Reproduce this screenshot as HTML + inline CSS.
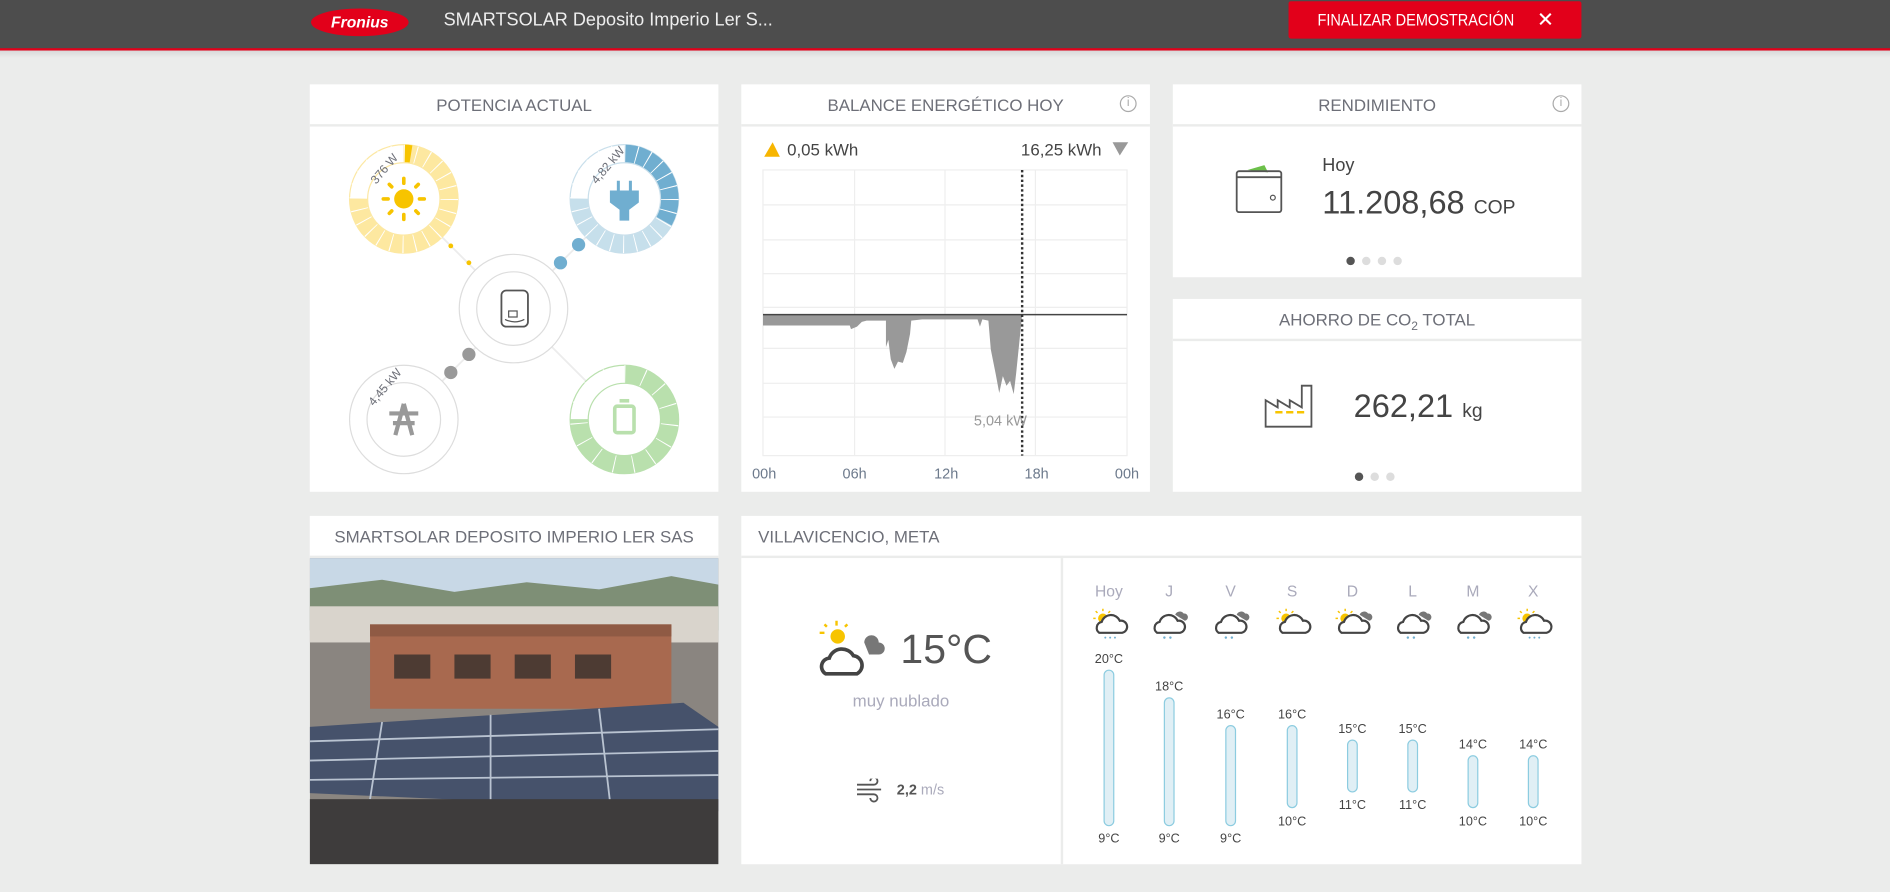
<!DOCTYPE html>
<html><head><meta charset="utf-8">
<style>
html,body{margin:0;padding:0;width:1890px;height:892px;overflow:hidden;background:#ebeceb;}
#w{position:absolute;left:0;top:0;width:1568px;height:740px;transform:scale(1.20536);transform-origin:0 0;font-family:"Liberation Sans",sans-serif;}
.card{position:absolute;background:#fff;}
.hd{position:absolute;left:0;right:0;top:0;height:33px;border-bottom:2px solid #ebeceb;color:#6d6f78;font-size:14px;line-height:34px;text-align:center;}
.abs{position:absolute;}
</style></head><body><div id="w">
<div class="abs" style="left:0;top:0;width:1568px;height:40px;background:#4d4d4d;border-bottom:2px solid #e2001a;"></div>
<div class="abs" style="left:0;top:42px;width:1568px;height:6px;background:linear-gradient(#d9d9d9,#ebeceb);"></div>
<div class="abs" style="left:258px;top:7px;width:81px;height:23px;border-radius:50%;background:#e2001a;color:#fff;font-style:italic;font-weight:bold;font-size:13px;line-height:23px;text-align:center;">Fronius</div>
<div class="abs" style="left:368px;top:8px;color:#eee;font-size:15px;">SMARTSOLAR Deposito Imperio Ler S...</div>
<div class="abs" style="left:1069px;top:1px;width:243px;height:31px;background:#e2001a;border-radius:2px;color:#fff;font-size:14px;line-height:31px;"><span style="position:absolute;left:24px;transform:scaleX(0.86);transform-origin:0 0;white-space:nowrap;">FINALIZAR DEMOSTRACIÓN</span><span style="position:absolute;left:206px;font-size:17px;">✕</span></div>

<!-- Potencia -->
<div class="card" style="left:257px;top:70px;width:339px;height:338px;">
<div class="hd">POTENCIA ACTUAL</div>
<svg class="abs" style="left:0;top:0" width="339" height="338">
<g stroke="#ececec" stroke-width="1.5"><line x1="78" y1="95" x2="261" y2="278"/><line x1="261" y1="95" x2="78" y2="278"/></g>
<!-- sun -->
<circle cx="78" cy="95" r="45" fill="#fff" stroke="#fce8a4"/>
<circle cx="78" cy="95" r="37.5" fill="none" stroke="#fde8a0" stroke-width="15" stroke-dasharray="176.7 300" transform="rotate(-90 78 95)"/>
<circle cx="78" cy="95" r="37.5" fill="none" stroke="#f7c400" stroke-width="15" stroke-dasharray="6 300" transform="rotate(-90 78 95)"/>
<circle cx="78" cy="95" r="37.5" fill="none" stroke="#fff" stroke-width="15" stroke-dasharray="0.8 9.02" transform="rotate(-90 78 95)"/>
<circle cx="78" cy="95" r="30" fill="#fff" stroke="#fce8a4"/>
<circle cx="78" cy="95" r="8" fill="#f7c400"/>
<g stroke="#f7c400" stroke-width="3" stroke-linecap="round"><line x1="78" y1="78" x2="78" y2="82"/><line x1="78" y1="108" x2="78" y2="112"/><line x1="61" y1="95" x2="65" y2="95"/><line x1="91" y1="95" x2="95" y2="95"/><line x1="66" y1="83" x2="68" y2="85"/><line x1="88" y1="105" x2="90" y2="107"/><line x1="90" y1="83" x2="88" y2="85"/><line x1="68" y1="105" x2="66" y2="107"/></g>
<text x="48" y="80" font-size="10" fill="#6d6f78" transform="rotate(-50 55 74)">376 W</text>
<!-- plug -->
<circle cx="261" cy="95" r="45" fill="#fff" stroke="#c9dfeb"/>
<circle cx="261" cy="95" r="37.5" fill="none" stroke="#c6dfeb" stroke-width="15" stroke-dasharray="176.7 300" transform="rotate(-90 261 95)"/>
<circle cx="261" cy="95" r="37.5" fill="none" stroke="#70aed0" stroke-width="15" stroke-dasharray="78 300" transform="rotate(-90 261 95)"/>
<circle cx="261" cy="95" r="37.5" fill="none" stroke="#fff" stroke-width="15" stroke-dasharray="0.8 9.02" transform="rotate(-90 261 95)"/>
<circle cx="261" cy="95" r="30" fill="#fff" stroke="#c9dfeb"/>
<path d="M256 80v8M266 80v8" stroke="#70aed0" stroke-width="2.5"/>
<path d="M249 88h24v10l-8 6v9h-8v-9l-8-6z" fill="#70aed0"/>
<text x="231" y="80" font-size="10" fill="#6d6f78" transform="rotate(-50 238 74)">4,82 kW</text>
<circle cx="117" cy="134" r="2" fill="#f7c400"/><circle cx="132" cy="148" r="2" fill="#f7c400"/>
<circle cx="223" cy="133" r="5.5" fill="#70aed0"/><circle cx="208" cy="148" r="5.5" fill="#70aed0"/>
<!-- inverter -->
<circle cx="169" cy="186" r="45" fill="#fff" stroke="#ddd"/><circle cx="169" cy="186" r="30.5" fill="none" stroke="#ddd"/>
<rect x="159" y="171" width="22" height="30" rx="4" fill="none" stroke="#555" stroke-width="1.5"/><path d="M162 195q8 4 16 0" fill="none" stroke="#555"/><rect x="165" y="188" width="7" height="5" fill="none" stroke="#555"/>
<circle cx="132" cy="224" r="5.5" fill="#999"/><circle cx="117" cy="239" r="5.5" fill="#999"/>
<!-- grid -->
<circle cx="78" cy="278" r="45" fill="#fff" stroke="#ddd"/><circle cx="78" cy="278" r="30.5" fill="none" stroke="#ddd"/>
<path d="M78 265l-7 26M78 265l7 26M66 273h24M69 281h18" stroke="#999" stroke-width="3.5" fill="none"/>
<text x="46" y="264" font-size="10" fill="#6d6f78" transform="rotate(-50 53 258)">4,45 kW</text>
<!-- battery -->
<circle cx="261" cy="278" r="45" fill="#fff" stroke="#b9e0ad"/>
<circle cx="261" cy="278" r="37.5" fill="none" stroke="#b9e0ad" stroke-width="15" stroke-dasharray="176.7 300" transform="rotate(-90 261 278)"/>
<circle cx="261" cy="278" r="37.5" fill="none" stroke="#fff" stroke-width="15" stroke-dasharray="0.8 14.9" transform="rotate(-90 261 278)"/>
<circle cx="261" cy="278" r="30" fill="#fff" stroke="#b9e0ad"/>
<rect x="253" y="267" width="16" height="22" rx="2" fill="none" stroke="#b9e0ad" stroke-width="3"/><rect x="257" y="261" width="8" height="3" fill="#b9e0ad"/>
</svg></div>

<!-- Balance -->
<div class="card" style="left:615px;top:70px;width:339px;height:338px;">
<div class="hd">BALANCE ENERGÉTICO HOY</div>
<div class="abs" style="left:314px;top:9px;width:12px;height:12px;border:1.5px solid #aaa;border-radius:50%;color:#aaa;font-size:10px;line-height:12px;text-align:center;">i</div>
<svg class="abs" style="left:0;top:0" width="339" height="338">
<polygon points="19,60 26,48 32,60" fill="#f7b500"/>
<text x="38" y="59" font-size="14" fill="#444">0,05 kWh</text>
<text x="232" y="59" font-size="14" fill="#444">16,25 kWh</text>
<polygon points="308,48 321,48 314,59" fill="#999"/>
<g stroke="#eee" stroke-width="1"><rect x="18" y="71" width="302" height="237" fill="none"/>
<line x1="94" y1="71" x2="94" y2="308"/><line x1="169" y1="71" x2="169" y2="308"/><line x1="244" y1="71" x2="244" y2="308"/>
<line x1="18" y1="100" x2="320" y2="100"/><line x1="18" y1="129" x2="320" y2="129"/><line x1="18" y1="157" x2="320" y2="157"/><line x1="18" y1="185" x2="320" y2="185"/><line x1="18" y1="219" x2="320" y2="219"/><line x1="18" y1="248" x2="320" y2="248"/><line x1="18" y1="276" x2="320" y2="276"/></g>
<path d="M18 191L18 200L90 200L91 203L96 201L100 197L104 196L120 196L120 218L122 212L124 228L127 236L130 230L134 231L137 222L140 207L141 196L150 195L196 195L198 201L200 195L205 196L207 220L211 240L214 256L217 242L220 250L223 246L226 257L228 240L233 191Z" fill="#999"/>
<line x1="18" y1="191" x2="320" y2="191" stroke="#444" stroke-width="1.2"/>
<line x1="233" y1="71" x2="233" y2="308" stroke="#333" stroke-width="2" stroke-dasharray="2 2"/>
<text x="193" y="283" font-size="12" fill="#999">5,04 kW</text>
<g font-size="12" fill="#6d7a8c" text-anchor="middle"><text x="19" y="327">00h</text><text x="94" y="327">06h</text><text x="170" y="327">12h</text><text x="245" y="327">18h</text><text x="320" y="327">00h</text></g>
</svg></div>

<!-- Rendimiento -->
<div class="card" style="left:973px;top:70px;width:339px;height:160px;">
<div class="hd">RENDIMIENTO</div>
<div class="abs" style="left:315px;top:9px;width:12px;height:12px;border:1.5px solid #aaa;border-radius:50%;color:#aaa;font-size:10px;line-height:12px;text-align:center;">i</div>
<svg class="abs" style="left:50px;top:65px" width="45" height="45"><path d="M12 6l14-4 3 6z" fill="#6cc04a"/><rect x="3" y="7" width="37" height="34" rx="2" fill="none" stroke="#555" stroke-width="1.5"/><line x1="3" y1="12" x2="40" y2="12" stroke="#555" stroke-width="1.5"/><circle cx="33" cy="29" r="2" fill="none" stroke="#555"/></svg>
<div class="abs" style="left:124px;top:59px;font-size:15px;color:#444;">Hoy</div>
<div class="abs" style="left:124px;top:83px;font-size:27px;color:#444;">11.208,68 <span style="font-size:16px;">COP</span></div>
<div class="abs" style="left:144px;top:137px;"><span style="display:inline-block;width:7px;height:7px;border-radius:50%;background:#555;margin-right:6px"></span><span style="display:inline-block;width:7px;height:7px;border-radius:50%;background:#ddd;margin-right:6px"></span><span style="display:inline-block;width:7px;height:7px;border-radius:50%;background:#ddd;margin-right:6px"></span><span style="display:inline-block;width:7px;height:7px;border-radius:50%;background:#ddd"></span></div>
</div>

<!-- CO2 -->
<div class="card" style="left:973px;top:248px;width:339px;height:160px;">
<div class="hd">AHORRO DE CO<sub style="font-size:10px">2</sub> TOTAL</div>
<svg class="abs" style="left:75px;top:70px" width="50" height="40"><path d="M2 36V14l10 6V14l10 6V14l10 6V2h8v34z" fill="none" stroke="#555" stroke-width="1.5"/><line x1="10" y1="24" x2="36" y2="24" stroke="#f7c400" stroke-width="2" stroke-dasharray="6 3"/></svg>
<div class="abs" style="left:150px;top:74px;font-size:27px;color:#444;">262,21 <span style="font-size:16px;">kg</span></div>
<div class="abs" style="left:151px;top:138px;"><span style="display:inline-block;width:7px;height:7px;border-radius:50%;background:#555;margin-right:6px"></span><span style="display:inline-block;width:7px;height:7px;border-radius:50%;background:#ddd;margin-right:6px"></span><span style="display:inline-block;width:7px;height:7px;border-radius:50%;background:#ddd"></span></div>
</div>

<!-- Photo -->
<div class="card" style="left:257px;top:428px;width:339px;height:289px;">
<div class="hd">SMARTSOLAR DEPOSITO IMPERIO LER SAS</div>
<svg class="abs" style="left:0;top:35px" width="339" height="254">
<rect width="339" height="254" fill="#8a8580"/>
<rect width="339" height="40" fill="#c8d8e6"/>
<path d="M0 25L60 18 120 28 180 20 240 26 300 15 339 22V60H0z" fill="#7e8f76"/>
<rect x="0" y="40" width="339" height="30" fill="#d9d4cc"/>
<rect x="50" y="55" width="250" height="70" fill="#a8694f"/>
<rect x="50" y="55" width="250" height="10" fill="#8f5a44"/>
<g fill="#4d3b33"><rect x="70" y="80" width="30" height="20"/><rect x="120" y="80" width="30" height="20"/><rect x="170" y="80" width="30" height="20"/><rect x="220" y="80" width="30" height="20"/></g>
<path d="M0 140L310 120 339 140V210L0 195z" fill="#46526b"/>
<g stroke="#b9c3d1" stroke-width="1.5"><line x1="0" y1="152" x2="339" y2="142"/><line x1="0" y1="168" x2="339" y2="160"/><line x1="0" y1="184" x2="339" y2="180"/><line x1="60" y1="136" x2="50" y2="200"/><line x1="150" y1="130" x2="150" y2="205"/><line x1="240" y1="125" x2="250" y2="210"/></g>
<rect x="0" y="200" width="339" height="54" fill="#3e3c3c"/>
</svg></div>

<!-- Weather -->
<div class="card" style="left:615px;top:428px;width:697px;height:289px;">
<div class="hd" style="text-align:left;padding-left:14px;">VILLAVICENCIO, META</div>
<div class="abs" style="left:265px;top:35px;width:2px;height:254px;background:#ebeceb;"></div>
<svg class="abs" style="left:60px;top:85px" width="65" height="55"><g stroke="#f7c400" stroke-width="2"><line x1="19" y1="2" x2="19" y2="6"/><line x1="5" y1="12" x2="9" y2="12"/><line x1="9" y1="5" x2="11" y2="7"/><line x1="28" y1="5" x2="26" y2="7"/></g><circle cx="20" cy="15" r="6" fill="#f7c400"/><path d="M42 20a6 6 0 0 1 12 0a5 5 0 0 1 0 10h-8z" fill="#777"/><path d="M10 46a7 7 0 0 1 3-13a11 11 0 0 1 20-2a8 8 0 0 1 3 15z" fill="#fff" stroke="#444" stroke-width="3"/></svg>
<div class="abs" style="left:132px;top:92px;font-size:34px;color:#555;">15°C</div>
<div class="abs" style="left:0;width:265px;top:145px;text-align:center;font-size:14px;color:#aab;">muy nublado</div>
<svg class="abs" style="left:94px;top:218px" width="26" height="20"><g stroke="#555" stroke-width="1.5" fill="none"><path d="M2 5h14a3 3 0 1 0-3-3"/><path d="M2 9h20"/><path d="M2 13h14a3 3 0 1 1-3 3"/></g></svg>
<div class="abs" style="left:129px;top:220px;font-size:12px;color:#555;"><b>2,2</b> <span style="color:#aab">m/s</span></div>
<svg class="abs" style="left:265px;top:35px" width="432" height="254">
<defs>
<g id="cl"><path d="M-9 9a5 5 0 0 1 2-9a8 8 0 0 1 15-1a5 5 0 0 1 2 10z" fill="#fff" stroke="#444" stroke-width="1.8"/></g>
<g id="sun"><circle cx="-6" cy="-3" r="4" fill="#f7c400"/><g stroke="#f7c400" stroke-width="1.2"><line x1="-6" y1="-11" x2="-6" y2="-9"/><line x1="-14" y1="-3" x2="-12" y2="-3"/><line x1="-12" y1="-9" x2="-10.5" y2="-7.5"/><line x1="0" y1="-9" x2="-1.5" y2="-7.5"/></g></g>
<g id="dk"><path d="M6 -6a4 4 0 0 1 7 -1a3 3 0 0 1 1 6z" fill="#777"/></g>
<g id="r2" fill="#70aed0"><circle cx="-3" cy="13" r="1"/><circle cx="2" cy="13" r="1"/></g>
<g id="r3" fill="#70aed0"><circle cx="-4" cy="13" r="0.8"/><circle cx="0" cy="13" r="0.8"/><circle cx="4" cy="13" r="0.8"/></g>
</defs>
<g font-size="13" fill="#aab" text-anchor="middle"><text x="40" y="32">Hoy</text><text x="90" y="32">J</text><text x="141" y="32">V</text><text x="192" y="32">S</text><text x="242" y="32">D</text><text x="292" y="32">L</text><text x="342" y="32">M</text><text x="392" y="32">X</text></g>
<g transform="translate(41,53)"><use href="#sun"/><use href="#cl"/><use href="#r3"/></g>
<g transform="translate(89,53)"><use href="#dk"/><use href="#cl"/><use href="#r2"/></g>
<g transform="translate(140,53)"><use href="#dk"/><use href="#cl"/><use href="#r2"/></g>
<g transform="translate(193,53)"><use href="#sun"/><use href="#cl"/></g>
<g transform="translate(242,53)"><use href="#sun"/><use href="#dk"/><use href="#cl"/></g>
<g transform="translate(291,53)"><use href="#dk"/><use href="#cl"/><use href="#r2"/></g>
<g transform="translate(341,53)"><use href="#dk"/><use href="#cl"/><use href="#r2"/></g>
<g transform="translate(393,53)"><use href="#sun"/><use href="#cl"/><use href="#r3"/></g>
<g fill="#e0eff5" stroke="#8ccce0" stroke-width="1">
<rect x="36" y="93" width="8" height="129" rx="4"/><rect x="86" y="116" width="8" height="106" rx="4"/><rect x="137" y="139" width="8" height="83" rx="4"/><rect x="188" y="139" width="8" height="68" rx="4"/><rect x="238" y="151" width="8" height="43" rx="4"/><rect x="288" y="151" width="8" height="43" rx="4"/><rect x="338" y="164" width="8" height="43" rx="4"/><rect x="388" y="164" width="8" height="43" rx="4"/></g>
<g font-size="10.5" fill="#444" text-anchor="middle">
<text x="40" y="87">20°C</text><text x="90" y="110">18°C</text><text x="141" y="133">16°C</text><text x="192" y="133">16°C</text><text x="242" y="145">15°C</text><text x="292" y="145">15°C</text><text x="342" y="158">14°C</text><text x="392" y="158">14°C</text>
<text x="40" y="236">9°C</text><text x="90" y="236">9°C</text><text x="141" y="236">9°C</text><text x="192" y="222">10°C</text><text x="242" y="208">11°C</text><text x="292" y="208">11°C</text><text x="342" y="222">10°C</text><text x="392" y="222">10°C</text></g>
</svg></div>
</div></body></html>
